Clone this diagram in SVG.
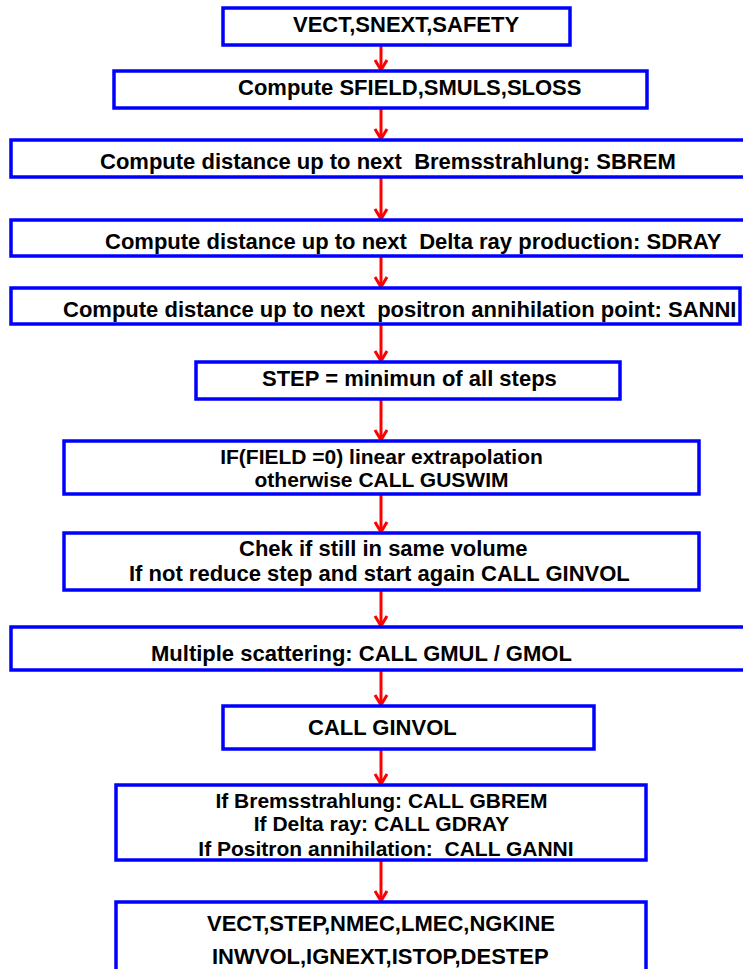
<svg xmlns="http://www.w3.org/2000/svg" width="743" height="969" viewBox="0 0 743 969">
<style>
.box{fill:#FFFFFF;stroke:#0000FF;stroke-width:3.5}
.t{font-family:"Liberation Sans",Arial,sans-serif;font-weight:bold;font-size:22px;fill:#000000;white-space:pre}
.s{font-size:21px}
.c{stroke:#FF0000;stroke-width:3;fill:none}
</style>
<defs>
<marker id="ah" viewBox="-12 -8 13 16" refX="0" refY="0" markerWidth="13" markerHeight="16" markerUnits="userSpaceOnUse" orient="auto">
<path d="M-10,-6 L0,0 L-10,6" fill="none" stroke="#FF0000" stroke-width="3"/>
</marker>
</defs>
<rect width="743" height="969" fill="#FFFFFF"/>
<g id="connectors">
<line class="c" x1="381" y1="45" x2="381" y2="70" marker-end="url(#ah)"/>
<line class="c" x1="381" y1="108" x2="381" y2="139" marker-end="url(#ah)"/>
<line class="c" x1="381" y1="177" x2="381" y2="219" marker-end="url(#ah)"/>
<line class="c" x1="381" y1="256" x2="381" y2="287" marker-end="url(#ah)"/>
<line class="c" x1="381" y1="324" x2="381" y2="361" marker-end="url(#ah)"/>
<line class="c" x1="381" y1="399" x2="381" y2="440" marker-end="url(#ah)"/>
<line class="c" x1="381" y1="494" x2="381" y2="532" marker-end="url(#ah)"/>
<line class="c" x1="381" y1="590" x2="381" y2="626" marker-end="url(#ah)"/>
<line class="c" x1="381" y1="670" x2="381" y2="705" marker-end="url(#ah)"/>
<line class="c" x1="381" y1="749" x2="381" y2="784" marker-end="url(#ah)"/>
<line class="c" x1="381" y1="860" x2="381" y2="901" marker-end="url(#ah)"/>
</g>
<g id="n1"><rect class="box" x="223" y="8" width="347" height="37"/><text class="t" x="293" y="32">VECT,SNEXT,SAFETY</text></g>
<g id="n2"><rect class="box" x="114" y="71" width="533" height="37"/><text class="t" x="238" y="95">Compute SFIELD,SMULS,SLOSS</text></g>
<g id="n3"><rect class="box" x="11" y="140" width="740" height="37"/><text class="t" x="100" y="169">Compute distance up to next  Bremsstrahlung: SBREM</text></g>
<g id="n4"><rect class="box" x="11" y="220" width="740" height="36"/><text class="t" x="105" y="249">Compute distance up to next  Delta ray production: SDRAY</text></g>
<g id="n5"><rect class="box" x="11" y="288" width="729" height="36"/><text class="t" x="63" y="317">Compute distance up to next  positron annihilation point: SANNI</text></g>
<g id="n6"><rect class="box" x="196" y="362" width="424" height="37"/><text class="t" x="262" y="386">STEP = minimun of all steps</text></g>
<g id="n7"><rect class="box" x="64" y="441" width="635" height="53"/><text class="t s" x="381.5" y="464" text-anchor="middle">IF(FIELD =0) linear extrapolation</text><text class="t s" x="381.5" y="487" text-anchor="middle">otherwise CALL GUSWIM</text></g>
<g id="n8"><rect class="box" x="64" y="533" width="635" height="57"/><text class="t" x="239" y="556">Chek if still in same volume</text><text class="t" x="129" y="581">If not reduce step and start again CALL GINVOL</text></g>
<g id="n9"><rect class="box" x="11" y="627" width="740" height="43"/><text class="t" x="151" y="661">Multiple scattering: CALL GMUL / GMOL</text></g>
<g id="n10"><rect class="box" x="223" y="706" width="371" height="43"/><text class="t" x="308" y="735">CALL GINVOL</text></g>
<g id="n11"><rect class="box" x="116" y="785" width="530" height="75"/><text class="t s" x="381.5" y="808" text-anchor="middle">If Bremsstrahlung: CALL GBREM</text><text class="t s" x="381.5" y="831" text-anchor="middle">If Delta ray: CALL GDRAY</text><text class="t s" x="386" y="856" text-anchor="middle">If Positron annihilation:  CALL GANNI</text></g>
<g id="n12"><rect class="box" x="116" y="902" width="530" height="80"/><text class="t" x="207" y="931">VECT,STEP,NMEC,LMEC,NGKINE</text><text class="t" x="212" y="964">INWVOL,IGNEXT,ISTOP,DESTEP</text></g>
</svg>
